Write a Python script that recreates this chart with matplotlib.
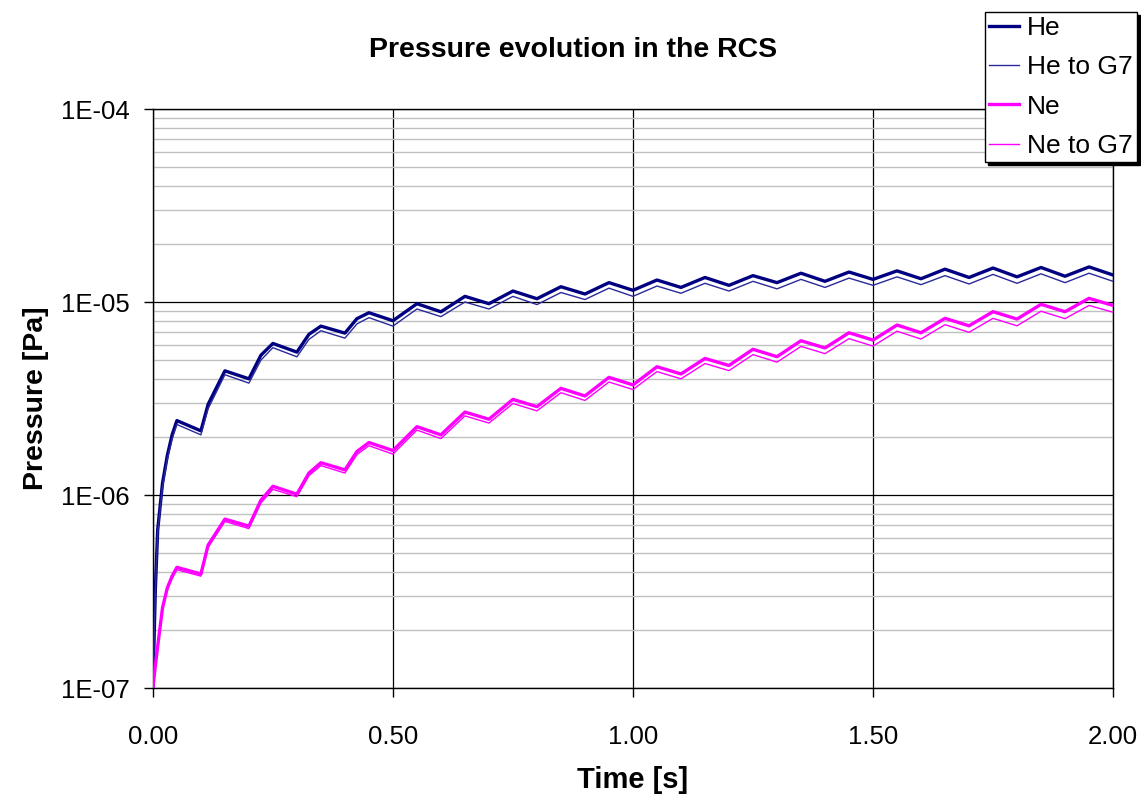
import math
import matplotlib
matplotlib.use('Agg')
import matplotlib.pyplot as plt
from matplotlib.ticker import FixedLocator, LogLocator, NullFormatter, FuncFormatter

plt.rcParams['font.family'] = ['Liberation Sans', 'DejaVu Sans']

# time points [s]
time = [0.0, 0.005, 0.01, 0.02, 0.03, 0.04, 0.05,
        0.1, 0.115, 0.15, 0.2, 0.225, 0.25, 0.3, 0.325, 0.35, 0.4, 0.425, 0.45,
        0.5, 0.55, 0.6, 0.65, 0.7, 0.75, 0.8, 0.85, 0.9, 0.95,
        1.0, 1.05, 1.1, 1.15, 1.2, 1.25, 1.3, 1.35, 1.4, 1.45,
        1.5, 1.55, 1.6, 1.65, 1.7, 1.75, 1.8, 1.85, 1.9, 1.95, 2.0]

he = [1.0e-7, 3.2e-7, 6.6e-7, 1.15e-6, 1.6e-6, 2.05e-6, 2.43e-6,
      2.15e-6, 2.95e-6, 4.4e-6, 4.0e-6, 5.3e-6, 6.1e-6, 5.5e-6, 6.8e-6, 7.5e-6, 6.9e-6, 8.2e-6, 8.8e-6,
      8.0e-6, 9.8e-6, 8.9e-6, 1.07e-5, 9.8e-6, 1.14e-5, 1.04e-5, 1.20e-5, 1.10e-5, 1.26e-5,
      1.15e-5, 1.30e-5, 1.19e-5, 1.34e-5, 1.22e-5, 1.37e-5, 1.26e-5, 1.41e-5, 1.28e-5, 1.43e-5,
      1.31e-5, 1.45e-5, 1.32e-5, 1.48e-5, 1.34e-5, 1.50e-5, 1.35e-5, 1.51e-5, 1.36e-5, 1.52e-5, 1.38e-5]

he_g7 = [1.0e-7, 3.1e-7, 6.4e-7, 1.1e-6, 1.53e-6, 1.95e-6, 2.32e-6,
         2.05e-6, 2.8e-6, 4.2e-6, 3.8e-6, 5.0e-6, 5.8e-6, 5.2e-6, 6.4e-6, 7.1e-6, 6.5e-6, 7.7e-6, 8.3e-6,
         7.5e-6, 9.2e-6, 8.4e-6, 1.0e-5, 9.2e-6, 1.07e-5, 9.7e-6, 1.12e-5, 1.03e-5, 1.18e-5,
         1.07e-5, 1.21e-5, 1.11e-5, 1.25e-5, 1.14e-5, 1.28e-5, 1.17e-5, 1.31e-5, 1.19e-5, 1.33e-5,
         1.22e-5, 1.35e-5, 1.23e-5, 1.37e-5, 1.24e-5, 1.39e-5, 1.25e-5, 1.40e-5, 1.26e-5, 1.41e-5, 1.28e-5]

ne = [1.0e-7, 1.3e-7, 1.65e-7, 2.6e-7, 3.3e-7, 3.8e-7, 4.22e-7,
      3.9e-7, 5.5e-7, 7.5e-7, 6.9e-7, 9.4e-7, 1.11e-6, 1.01e-6, 1.3e-6, 1.47e-6, 1.35e-6, 1.68e-6, 1.87e-6,
      1.70e-6, 2.26e-6, 2.05e-6, 2.69e-6, 2.47e-6, 3.13e-6, 2.87e-6, 3.57e-6, 3.26e-6, 4.07e-6,
      3.72e-6, 4.62e-6, 4.24e-6, 5.1e-6, 4.69e-6, 5.69e-6, 5.21e-6, 6.3e-6, 5.78e-6, 6.93e-6,
      6.35e-6, 7.6e-6, 6.93e-6, 8.23e-6, 7.53e-6, 8.91e-6, 8.16e-6, 9.73e-6, 8.91e-6, 1.045e-5, 9.6e-6]

ne_g7 = [1.0e-7, 1.28e-7, 1.62e-7, 2.55e-7, 3.22e-7, 3.7e-7, 4.1e-7,
         3.8e-7, 5.35e-7, 7.3e-7, 6.7e-7, 9.1e-7, 1.07e-6, 9.8e-7, 1.26e-6, 1.42e-6, 1.3e-6, 1.62e-6, 1.8e-6,
         1.63e-6, 2.17e-6, 1.96e-6, 2.57e-6, 2.36e-6, 2.98e-6, 2.73e-6, 3.39e-6, 3.09e-6, 3.85e-6,
         3.52e-6, 4.36e-6, 4.0e-6, 4.8e-6, 4.41e-6, 5.34e-6, 4.88e-6, 5.89e-6, 5.4e-6, 6.46e-6,
         5.91e-6, 7.06e-6, 6.43e-6, 7.63e-6, 6.97e-6, 8.23e-6, 7.53e-6, 8.96e-6, 8.2e-6, 9.6e-6, 8.85e-6]

x_ticks = [0.0, 0.5, 1.0, 1.5, 2.0]
y_ticks = [1e-7, 1e-6, 1e-5, 1e-4]


def exp_label(v, pos):
    return '1E-%02d' % round(-math.log10(v))


fig = plt.figure(figsize=(11.41, 7.98), dpi=100)
ax = fig.add_axes([0.134, 0.1378, 0.8415, 0.7256])

ax.set_yscale('log')
ax.set_xlim(0, 2)
ax.set_ylim(1e-7, 1e-4)

ax.plot(time, he, color='#000080', lw=2.4, label='He', zorder=3)
ax.plot(time, he_g7, color='#2a2a9a', lw=1.0, label='He to G7', zorder=3)
ax.plot(time, ne, color='#ff00ff', lw=2.4, label='Ne', zorder=3)
ax.plot(time, ne_g7, color='#ff00ff', lw=1.0, label='Ne to G7', zorder=3)

ax.xaxis.set_major_locator(FixedLocator(x_ticks))
ax.xaxis.set_major_formatter(FuncFormatter(lambda v, p: '%.2f' % v))
ax.yaxis.set_major_locator(FixedLocator(y_ticks))
ax.yaxis.set_major_formatter(FuncFormatter(exp_label))
ax.yaxis.set_minor_locator(LogLocator(base=10, subs=range(2, 10)))
ax.yaxis.set_minor_formatter(NullFormatter())

ax.grid(True, which='major', axis='both', color='black', lw=0.9, zorder=1)
ax.grid(True, which='minor', axis='y', color='#c0c0c0', lw=1.0, zorder=0)
ax.tick_params(which='major', direction='out', length=6.5, width=1, labelsize=18.5)
ax.tick_params(axis='x', pad=20)
ax.tick_params(axis='y', pad=10)
ax.tick_params(which='minor', length=0)
for sp in ax.spines.values():
    sp.set_color('black')
    sp.set_linewidth(1.0)

ax.set_xlabel('Time [s]', fontsize=21, fontweight='bold', labelpad=12)
ax.set_ylabel('Pressure [Pa]', fontsize=20.5, fontweight='bold', labelpad=9)
fig.text(0.502, 0.937, 'Pressure evolution in the RCS', ha='center', va='center',
         fontsize=20.5, fontweight='bold')

leg = fig.legend(loc='lower right', bbox_to_anchor=(0.9965, 0.797), fontsize=19,
                 frameon=True, fancybox=False, edgecolor='black', framealpha=1,
                 handlelength=1.15, handletextpad=0.3, borderpad=0.15, labelspacing=0.58,
                 borderaxespad=0.0, shadow={'color': 'black', 'alpha': 1})
leg.get_frame().set_linewidth(1.0)

fig.savefig('out.png', dpi=100)
